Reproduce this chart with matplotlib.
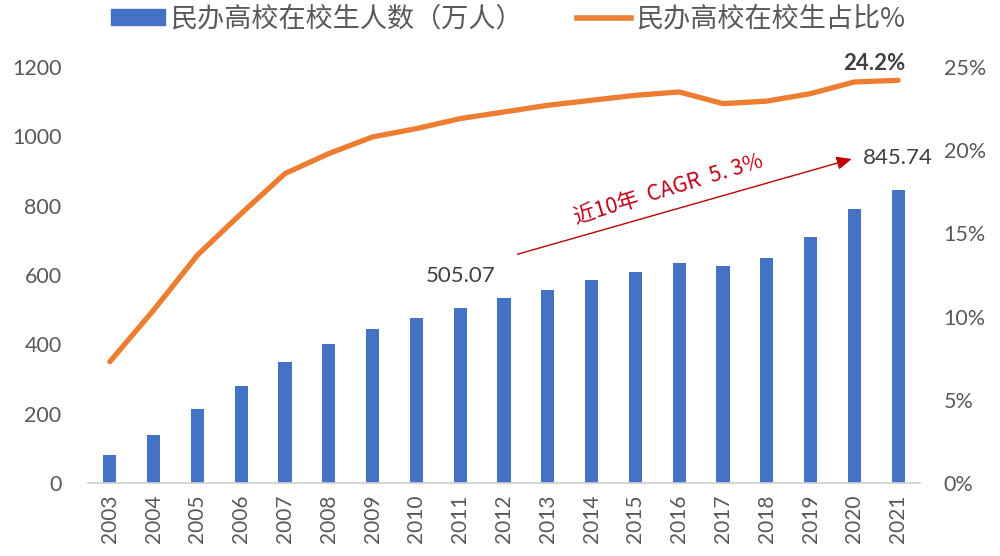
import matplotlib
matplotlib.use("Agg")
import matplotlib.pyplot as plt
from matplotlib.patches import Patch
from matplotlib.lines import Line2D

plt.rcParams['font.family'] = ['Lato', 'Noto Sans CJK SC', 'DejaVu Sans']

years = [str(y) for y in range(2003, 2022)]
students = [81, 139, 213, 280, 350, 400, 445, 477, 505.07, 533, 557, 587,
            610, 634, 627, 648, 709, 790, 845.74]
share = [7.3, 10.4, 13.7, 16.2, 18.6, 19.8, 20.8, 21.3, 21.9, 22.3, 22.7, 23.0,
         23.3, 23.5, 22.8, 22.95, 23.4, 24.1, 24.2]

bar_color = '#4472C4'
line_color = '#ED7D31'
gray = '#595959'

fig = plt.figure(figsize=(10, 5.56), dpi=100)
ax = fig.add_axes([0.088, 0.131, 0.832, 0.7485])
ax2 = ax.twinx()

x = list(range(len(years)))
ax.bar(x, students, width=0.3, color=bar_color, zorder=2)
ax2.plot(x, [s / 100 for s in share], color=line_color, lw=3.8,
         solid_capstyle='round', solid_joinstyle='round', clip_on=False, zorder=3)

ax.set_xlim(-0.5, len(years) - 0.5)
ax.set_ylim(0, 1200)
ax.set_yticks(range(0, 1201, 200))
ax2.set_ylim(0, 0.25)
ax2.set_yticks([0, 0.05, 0.10, 0.15, 0.20, 0.25])
ax2.set_yticklabels(['0%', '5%', '10%', '15%', '20%', '25%'])

ax.set_xticks(x)
ax.set_xticklabels(years, rotation=90)

for a in (ax, ax2):
    for s in a.spines.values():
        s.set_visible(False)
    a.tick_params(length=0, colors=gray, labelsize=15.5)
ax.spines['bottom'].set_visible(True)
ax.spines['bottom'].set_color('#d0d0d0')
ax.spines['bottom'].set_linewidth(1.2)
ax.tick_params(axis='y', pad=19)
ax.tick_params(axis='x', pad=8, labelsize=15)
ax2.tick_params(axis='y', pad=17)

ax.set_zorder(ax2.get_zorder() + 1)
ax.patch.set_visible(False)

# value labels
for i in (8, 18):
    ax.annotate(f"{students[i]:.2f}", (x[i], students[i]), xytext=(0, 23),
                textcoords='offset points', ha='center', va='center',
                fontsize=16, color='#404040')
ax2.annotate(f"{share[-1]:.1f}%", (x[-1], share[-1] / 100), xytext=(-17, 12),
             textcoords='offset points', ha='center', va='center',
             fontsize=16, fontweight='bold', color='#404040')

# CAGR arrow
ax.annotate('', xy=(17.0, 937), xytext=(9.25, 658),
            arrowprops=dict(arrowstyle='-|>,head_length=0.9,head_width=0.4',
                            color='#C00000', lw=1.0))
ax.text(12.75, 845, '近10年  CAGR  5. 3%', rotation=17, color='#C00018',
        fontsize=15.5, ha='center', va='center',
        family=['Noto Sans CJK SC', 'DejaVu Sans'])

handles = [Patch(color=bar_color), Line2D([], [], color=line_color, lw=4)]
fig.legend(handles, ['民办高校在校生人数（万人）', '民办高校在校生占比%'],
           loc='center', bbox_to_anchor=(0.508, 0.966), ncol=2, frameon=False,
           handlelength=2.0, handleheight=0.55, handletextpad=0.2,
           columnspacing=2.0, labelcolor=gray,
           prop={'family': ['Noto Sans CJK SC', 'DejaVu Sans'], 'size': 19.5})

fig.savefig('out.png', dpi=100)
